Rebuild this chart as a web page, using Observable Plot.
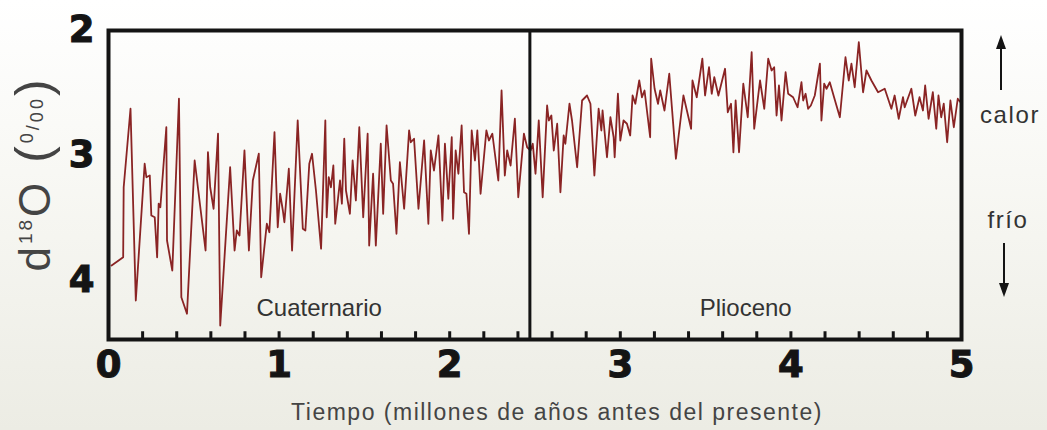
<!DOCTYPE html>
<html>
<head>
<meta charset="utf-8">
<script src="https://cdn.jsdelivr.net/npm/d3@7"></script>
<script src="https://cdn.jsdelivr.net/npm/@observablehq/plot@0.6"></script>
<style>
  html, body { margin: 0; padding: 0; }
  body {
    width: 1047px; height: 430px; overflow: hidden;
    background: linear-gradient(to bottom, #ffffff 0%, #f8f8f4 40%, #ececE4 100%);
  }
  svg { display: block; }
  g[aria-label="x-axis tick label"] text,
  g[aria-label="y-axis tick label"] text { stroke: #161616; stroke-width: 1.1px; }
  g[aria-label="period-label"] text { letter-spacing: 1.6px; }
</style>
</head>
<body>
<script>
// ---- data ----
const ages = [
  0.018, 0.086, 0.089, 0.129, 0.160, 0.212, 0.222, 0.242, 0.251, 0.271, 0.285, 0.294, 0.304, 0.339, 0.343, 0.374, 0.413, 0.427, 0.460, 0.505,
  0.569, 0.583, 0.596, 0.616, 0.642, 0.655, 0.713, 0.739, 0.752, 0.768, 0.797, 0.823, 0.846, 0.881, 0.895, 0.928, 0.943, 0.973, 0.992, 1.006,
  1.022, 1.031, 1.057, 1.076, 1.109, 1.139, 1.154, 1.177, 1.193, 1.216, 1.246, 1.271, 1.279, 1.291, 1.304, 1.318, 1.329, 1.357, 1.368, 1.382,
  1.392, 1.415, 1.431, 1.450, 1.470, 1.493, 1.519, 1.528, 1.551, 1.567, 1.596, 1.610, 1.630, 1.655, 1.668, 1.688, 1.708, 1.733, 1.762, 1.772,
  1.791, 1.817, 1.850, 1.875, 1.889, 1.908, 1.934, 1.957, 1.972, 1.992, 2.012,
  2.020, 2.035, 2.051, 2.070, 2.084, 2.098, 2.113, 2.129, 2.148, 2.162, 2.181, 2.215, 2.230, 2.250, 2.285, 2.304, 2.323, 2.337, 2.357, 2.382,
  2.402, 2.435, 2.454, 2.474, 2.487, 2.503, 2.522, 2.545, 2.571, 2.581, 2.596, 2.610, 2.630, 2.649, 2.668, 2.678, 2.702, 2.717, 2.747, 2.776,
  2.805, 2.825, 2.848, 2.873, 2.889, 2.896, 2.922, 2.942, 2.961, 2.967, 2.986, 3.000, 3.019,
  3.039, 3.058, 3.072, 3.088, 3.111, 3.127, 3.142, 3.175, 3.181, 3.201, 3.221, 3.234, 3.259, 3.287, 3.326, 3.370, 3.415, 3.423, 3.448, 3.481,
  3.497, 3.520, 3.536, 3.551, 3.575, 3.614, 3.630, 3.649, 3.663, 3.676, 3.696, 3.721, 3.747, 3.770, 3.785, 3.819, 3.844, 3.867, 3.887, 3.902,
  3.916, 3.930, 3.945, 3.969, 3.984, 4.013,
  4.039, 4.062, 4.072, 4.086, 4.101, 4.117, 4.140, 4.170, 4.179, 4.195, 4.209, 4.228, 4.253, 4.287, 4.320, 4.339, 4.355, 4.374, 4.398, 4.423,
  4.443, 4.472, 4.511, 4.550, 4.573, 4.589, 4.608, 4.632, 4.657, 4.667, 4.706, 4.729, 4.754, 4.774, 4.787, 4.807, 4.832, 4.852, 4.865, 4.881,
  4.896, 4.916, 4.935, 4.955, 4.978, 4.994
];
const d18O = [
  3.88, 3.814, 3.254, 2.626, 4.16, 3.066, 3.174, 3.16, 3.48, 3.494, 3.814, 3.386, 3.414, 2.774, 3.68, 3.92, 2.546, 4.134, 4.266, 3.04,
  3.76, 2.974, 3.254, 3.426, 2.826, 4.36, 3.094, 3.76, 3.6, 3.64, 2.96, 3.76, 3.2, 2.986, 3.974, 3.546, 3.614, 2.814, 3.574, 3.306,
  3.44, 3.534, 3.106, 3.76, 2.72, 3.586, 3.6, 3.066, 2.986, 3.28, 3.746, 2.72, 3.494, 3.174, 3.254, 3.08, 3.546, 3.2, 3.386, 2.866,
  3.28, 3.466, 3.04, 3.36, 2.774, 3.494, 2.826, 3.72, 3.146, 3.72, 2.906, 3.466, 2.76, 3.2, 3.226, 3.626, 3.054, 3.426, 2.8, 2.894,
  2.866, 3.426, 2.88, 3.546, 2.96, 3.12, 2.84, 3.52, 2.906, 3.346, 2.854,
  3.506, 2.96, 3.146, 2.76, 3.294, 3.306, 3.626, 2.8, 3.04, 2.8, 3.306, 2.8, 2.88, 2.826, 3.2, 2.48, 3.16, 2.96, 3.08, 2.706,
  3.334, 2.826, 2.934, 2.96, 2.906, 3.146, 2.72, 3.334, 2.6, 2.72, 2.68, 2.96, 2.746, 3.294, 2.84, 2.906, 2.586, 2.72, 3.094, 2.56,
  2.52, 2.586, 3.16, 2.626, 2.8, 2.64, 3.014, 2.694, 2.854, 3.014, 2.506, 2.88, 2.72,
  2.746, 2.84, 2.52, 2.586, 2.4, 2.534, 2.48, 2.854, 2.226, 2.466, 2.586, 2.48, 2.64, 2.346, 3.026, 2.52, 2.786, 2.4, 2.534, 2.226,
  2.52, 2.294, 2.506, 2.374, 2.52, 2.306, 2.654, 2.586, 2.974, 2.56, 2.974, 2.426, 2.694, 2.174, 2.786, 2.4, 2.626, 2.226, 2.32, 2.294,
  2.68, 2.44, 2.72, 2.334, 2.506, 2.534,
  2.614, 2.414, 2.56, 2.506, 2.626, 2.6, 2.52, 2.266, 2.72, 2.426, 2.466, 2.414, 2.534, 2.694, 2.214, 2.4, 2.266, 2.454, 2.094, 2.494,
  2.32, 2.4, 2.494, 2.466, 2.56, 2.626, 2.52, 2.706, 2.534, 2.614, 2.466, 2.68, 2.534, 2.64, 2.44, 2.706, 2.494, 2.786, 2.52, 2.694,
  2.586, 2.894, 2.56, 2.774, 2.546, 2.574
];
const periods = ["Cuaternario", "Plioceno"];
const periodStart = [0, 2.47];
const periodEnd = [2.47, 5];
const boundaries = [2.47];
const xTicks = [0, 1, 2, 3, 4, 5];
const minorTicks = [0.2, 0.4, 0.6, 0.8, 1.0, 1.2, 1.4, 1.6, 1.8, 2.0, 2.2, 2.4, 2.6, 2.8, 3.0, 3.2, 3.4, 3.6, 3.8, 4.0, 4.2, 4.4, 4.6, 4.8];
const yTicks = [2, 3, 4];
const yDomain = [2, 4.472];
const xTitle = "Tiempo (millones de años antes del presente)";
const warmLabel = "calor";
const coldLabel = "frío";

// ---- chart ----
const series = ages.map((a, i) => ({age: a, d18O: d18O[i]}));
const ink = "#141414";

const chart = Plot.plot({
  width: 1047,
  height: 430,
  marginLeft: 108,
  marginRight: 86,
  marginTop: 30,
  marginBottom: 91,
  style: {background: "transparent", fontFamily: "'Liberation Sans', Arial, sans-serif", overflow: "visible"},
  x: {domain: [0, 5]},
  y: {domain: yDomain, reverse: true},
  marks: [
    Plot.line(series, {x: "age", y: "d18O", stroke: "#8a2424", strokeWidth: 1.8}),
    Plot.ruleX(boundaries, {stroke: ink, strokeWidth: 3}),
    Plot.ruleX(minorTicks, {y1: yDomain[1], y2: yDomain[1] - 0.062, stroke: ink, strokeWidth: 3}),
    Plot.frame({stroke: ink, strokeWidth: 4}),
    Plot.text(periods, {
      x: (d, i) => (periodStart[i] + periodEnd[i]) / 2,
      text: d => d,
      frameAnchor: "bottom", lineAnchor: "bottom", dy: -24,
      fontSize: 24, fill: "#333", ariaLabel: "period-label"
    }),
    Plot.axisX(xTicks, {
      tickSize: 0, tickPadding: 11, fontSize: 37, fontWeight: "bold",
      fontFamily: "'DejaVu Sans', sans-serif", fill: ink, label: null, tickFormat: d => String(d)
    }),
    Plot.axisY(yTicks, {
      tickSize: 0, tickPadding: 14, fontSize: 37, fontWeight: "bold",
      fontFamily: "'DejaVu Sans', sans-serif", fill: ink, label: null, tickFormat: d => String(d)
    })
  ]
});
document.body.appendChild(chart);

// ---- titles and annotations ----
const svg = d3.select(chart);
const ff = "'Liberation Sans', Arial, sans-serif";

// rotated y title: d18O (0/00)
const yt = svg.append("text")
  .attr("transform", "translate(50,174) rotate(-90)")
  .attr("text-anchor", "middle")
  .attr("fill", "#444")
  .style("font-family", ff)
  .style("letter-spacing", "3px");
yt.append("tspan").attr("font-size", 44).text("d");
yt.append("tspan").attr("font-size", 19).attr("dy", -18).text("18");
yt.append("tspan").attr("font-size", 44).attr("dy", 18).text("O");
yt.append("tspan").attr("font-size", 50).text(" (");
yt.append("tspan").attr("font-size", 18).attr("dy", -17).text("0");
yt.append("tspan").attr("font-size", 18).attr("dy", 6).text("/");
yt.append("tspan").attr("font-size", 18).attr("dy", 4).text("00");
yt.append("tspan").attr("font-size", 50).attr("dy", 7).text(")");

// x title
svg.append("text")
  .attr("x", 557).attr("y", 420)
  .attr("text-anchor", "middle")
  .attr("fill", "#444")
  .attr("font-size", 23)
  .style("font-family", ff)
  .style("letter-spacing", "1.5px")
  .text(xTitle);

// warm / cold annotations
svg.append("text").attr("x", 1010).attr("y", 123).attr("text-anchor", "middle")
  .attr("fill", "#333").attr("font-size", 24).style("font-family", ff).style("letter-spacing", "1.6px")
  .text(warmLabel);
svg.append("text").attr("x", 1008).attr("y", 228).attr("text-anchor", "middle")
  .attr("fill", "#333").attr("font-size", 24).style("font-family", ff).style("letter-spacing", "1.6px")
  .text(coldLabel);

// arrows
svg.append("line").attr("x1", 1001).attr("x2", 1001).attr("y1", 90).attr("y2", 46)
  .attr("stroke", ink).attr("stroke-width", 2);
svg.append("path").attr("d", "M1001,35 L1006,49 L996,49 Z").attr("fill", ink);
svg.append("line").attr("x1", 1004).attr("x2", 1004).attr("y1", 243).attr("y2", 286)
  .attr("stroke", ink).attr("stroke-width", 2);
svg.append("path").attr("d", "M1004,297 L1009,283 L999,283 Z").attr("fill", ink);
</script>
</body>
</html>
